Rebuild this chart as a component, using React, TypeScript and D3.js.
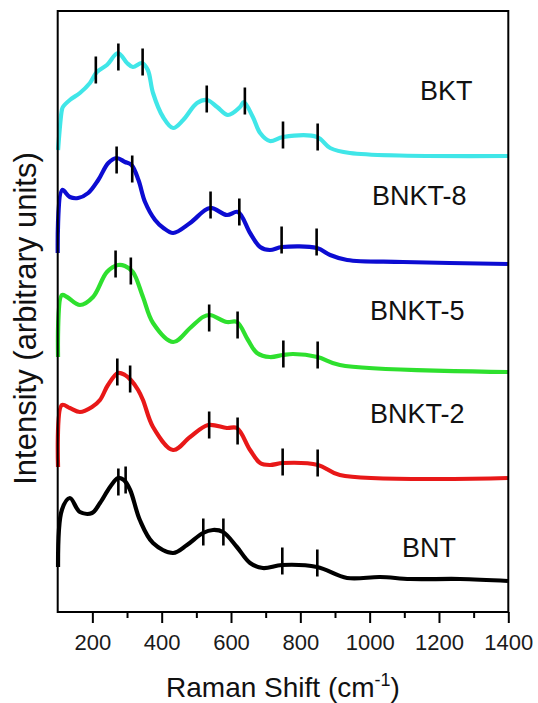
import React, { useRef, useEffect } from "react";
import * as d3 from "d3";

// Raman spectra, [wavenumber (cm-1), intensity (a.u., stacked)]
const bnt = [
  [101, 45], [112, 102], [135, 114], [164, 100], [199, 99], [222, 109], [251, 125],
  [274, 134], [291, 132], [309, 122], [337, 92], [375, 69], [433, 59], [473, 67],
  [519, 79], [548, 82], [577, 80], [617, 65], [655, 49], [692, 44], [747, 47],
  [848, 45], [935, 34], [1030, 35], [1117, 33], [1261, 33], [1399, 31],
];
const bnkt2 = [
  [101, 145], [112, 207], [135, 204], [164, 200], [199, 205], [222, 212], [245, 227],
  [274, 239], [294, 237], [311, 232], [332, 222], [346, 212], [375, 185], [433, 162],
  [482, 175], [534, 187], [588, 184], [617, 184], [655, 162], [684, 149], [712, 147],
  [750, 149], [851, 147], [914, 137], [1399, 134],
];
const bnkt5 = [
  [101, 255], [112, 317], [127, 315], [164, 307], [202, 315], [242, 340], [274, 347],
  [294, 346], [317, 340], [346, 315], [375, 289], [433, 270], [482, 284], [519, 295],
  [539, 297], [588, 290], [617, 290], [649, 272], [675, 259], [712, 255], [750, 257],
  [779, 258], [850, 255], [914, 247], [1399, 240],
];
const bnkt8 = [
  [100, 359], [113, 422], [135, 415], [159, 414], [188, 419], [217, 432], [246, 449],
  [270, 454], [294, 450], [313, 447], [333, 432], [352, 410], [381, 392], [405, 384],
  [433, 379], [482, 389], [539, 404], [588, 397], [620, 400], [655, 379], [684, 365],
  [712, 362], [747, 365], [848, 364], [886, 357], [935, 352], [1096, 350], [1399, 348],
];
const bkt = [
  [101, 462], [112, 502], [115, 505], [135, 512], [164, 519], [193, 529], [213, 540],
  [242, 547], [274, 559], [300, 549], [317, 545], [343, 549], [360, 542], [375, 519],
  [404, 495], [433, 484], [462, 492], [502, 509], [531, 512], [560, 505], [591, 497],
  [626, 505], [637, 510], [663, 495], [684, 479], [712, 471], [750, 475], [848, 475],
  [886, 464], [943, 459], [1399, 456],
];

// peak markers, [wavenumber, intensity at marker centre]
const bntPeaks = [[275, 130], [296, 132], [520, 80], [578, 80], [748, 51], [849, 49]];
const bnkt2Peaks = [[272, 240], [309, 233], [537, 187], [619, 181], [749, 150], [850, 149]];
const bnkt5Peaks = [[267, 348], [311, 341], [537, 294], [619, 287], [751, 258], [850, 257]];
const bnkt8Peaks = [[270, 452], [315, 443], [541, 407], [624, 400], [746, 372], [847, 370]];
const bktPeaks = [[210, 542], [275, 555], [345, 550], [530, 513], [640, 511], [750, 477], [850, 475]];

const names = ["BNT", "BNKT-2", "BNKT-5", "BNKT-8", "BKT"];
const spectra = [bnt, bnkt2, bnkt5, bnkt8, bkt];
const peaks = [bntPeaks, bnkt2Peaks, bnkt5Peaks, bnkt8Peaks, bktPeaks];
const colors = ["#000000", "#e81818", "#2ee02e", "#0c0cd2", "#40e6e8"];

// label anchors in data units [wavenumber, intensity]
const labelPos = [[1093, 55], [1001, 189], [1001, 292], [1007, 407], [1145, 512]];

const majorTicks = [200, 400, 600, 800, 1000, 1200, 1400];
const minorTicks = [300, 500, 700, 900, 1100, 1300];

const FONT = "'Liberation Sans', Arial, sans-serif";

const App = () => {
  const svgRef = useRef(null);

  useEffect(() => {
    const W = 538;
    const H = 703;
    const margin = { top: 11, right: 29.7, bottom: 91, left: 57.7 };
    const width = W - margin.left - margin.right;
    const height = H - margin.top - margin.bottom;

    const svg = d3.select(svgRef.current).attr("width", W).attr("height", H);
    svg.selectAll("*").remove();

    const g = svg.append("g").attr("transform", `translate(${margin.left}, ${margin.top})`);

    const xScale = d3.scaleLinear().domain([100, 1400]).range([0, width]);
    const yScale = d3.scaleLinear().domain([0, height]).range([height, 0]);

    const line = d3
      .line()
      .x((d) => xScale(d[0]))
      .y((d) => yScale(d[1]))
      .curve(d3.curveCatmullRom.alpha(0.5));

    spectra.forEach((s, i) => {
      g.append("path")
        .attr("d", line(s))
        .attr("fill", "none")
        .attr("stroke", colors[i])
        .attr("stroke-width", 4.2)
        .attr("stroke-linejoin", "round");
    });

    // peak marks
    peaks.forEach((p) => {
      g.selectAll(null)
        .data(p)
        .enter()
        .append("line")
        .attr("x1", (d) => xScale(d[0]))
        .attr("x2", (d) => xScale(d[0]))
        .attr("y1", (d) => yScale(d[1]) - 13.5)
        .attr("y2", (d) => yScale(d[1]) + 13.5)
        .attr("stroke", "#000")
        .attr("stroke-width", 2.6);
    });

    // sample names
    names.forEach((n, i) => {
      g.append("text")
        .attr("x", xScale(labelPos[i][0]))
        .attr("y", yScale(labelPos[i][1]))
        .attr("font-family", FONT)
        .attr("font-size", 27)
        .attr("fill", "#111")
        .text(n);
    });

    // frame
    g.append("rect")
      .attr("width", width)
      .attr("height", height)
      .attr("fill", "none")
      .attr("stroke", "#000")
      .attr("stroke-width", 2);

    const xAxis = d3
      .axisBottom(xScale)
      .tickValues(majorTicks)
      .tickFormat(d3.format("d"))
      .tickSize(11)
      .tickPadding(11);
    const ax = g.append("g").attr("transform", `translate(0, ${height})`).call(xAxis);
    ax.select(".domain").remove();
    ax.selectAll("line").attr("stroke-width", 2);
    ax.selectAll("text")
      .attr("font-family", FONT)
      .style("font-size", "22px")
      .attr("fill", "#1a1a1a");

    const minor = d3.axisBottom(xScale).tickValues(minorTicks).tickSize(6).tickFormat(() => "");
    const mx = g.append("g").attr("transform", `translate(0, ${height})`).call(minor);
    mx.select(".domain").remove();
    mx.selectAll("line").attr("stroke-width", 2);

    // axis titles
    const xt = svg
      .append("text")
      .attr("x", margin.left + width / 2)
      .attr("y", 697)
      .attr("text-anchor", "middle")
      .attr("font-family", FONT)
      .attr("font-size", 28)
      .attr("fill", "#111");
    xt.append("tspan").text("Raman Shift (cm");
    xt.append("tspan").attr("dy", -11).attr("font-size", 18).text("-1");
    xt.append("tspan").attr("dy", 11).text(")");

    svg
      .append("text")
      .attr("transform", `translate(36, ${margin.top + height / 2 + 7}) rotate(-90)`)
      .attr("text-anchor", "middle")
      .attr("font-family", FONT)
      .attr("font-size", 31)
      .attr("fill", "#111")
      .text("Intensity (arbitrary units)");
  }, []);

  return (
    <div>
      <svg ref={svgRef} style={{ position: "absolute", left: 0, top: 0, display: "block" }}></svg>
    </div>
  );
};

export default App;
